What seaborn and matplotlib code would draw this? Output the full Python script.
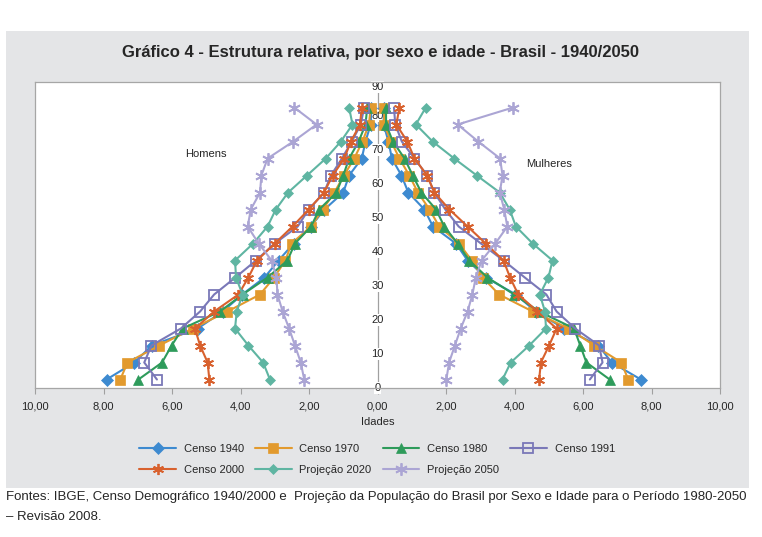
import numpy as np
import matplotlib
matplotlib.use("Agg")
import matplotlib.pyplot as plt
import seaborn as sns
from matplotlib import font_manager
from matplotlib.patches import Rectangle
from matplotlib.ticker import FuncFormatter

# ---------------- data ----------------
ages = [2.5, 7.5, 12.5, 17.5, 22.5, 27.5, 32.5, 37.5, 42.5, 47.5,
        52.5, 57.5, 62.5, 67.5, 72.5, 77.5, 82.5]
y_ticks = [0, 10, 20, 30, 40, 50, 60, 70, 80, 90]
x_ticks = [-10, -8, -6, -4, -2, 0, 2, 4, 6, 8, 10]

series_names = ["Censo 1940", "Censo 1970", "Censo 1980", "Censo 1991",
                "Censo 2000", "Projeção 2020", "Projeção 2050"]

homens_1940 = [7.91, 7.10, 6.59, 5.25, 4.52, 3.95, 3.30, 2.89, 2.45, 1.95, 1.55, 1.00, 0.83, 0.46, 0.35, 0.20, 0.18]
mulheres_1940 = [7.69, 6.84, 6.45, 5.45, 4.62, 4.04, 3.16, 2.63, 2.29, 1.62, 1.37, 0.90, 0.70, 0.42, 0.32, 0.18, 0.18]
homens_1970 = [7.51, 7.30, 6.37, 5.40, 4.38, 3.43, 3.02, 2.69, 2.51, 1.94, 1.60, 1.26, 0.98, 0.68, 0.44, 0.25, 0.20]
mulheres_1970 = [7.32, 7.12, 6.33, 5.58, 4.53, 3.55, 3.07, 2.75, 2.38, 1.80, 1.52, 1.18, 0.93, 0.64, 0.40, 0.19, 0.20]
homens_1980 = [6.98, 6.29, 6.01, 5.69, 4.60, 3.94, 3.21, 2.63, 2.41, 1.94, 1.70, 1.20, 1.00, 0.83, 0.55, 0.35, 0.30]
mulheres_1980 = [6.78, 6.10, 5.92, 5.74, 4.72, 3.99, 3.21, 2.68, 2.34, 1.95, 1.71, 1.28, 1.03, 0.79, 0.45, 0.25, 0.25]
homens_1991 = [6.44, 6.81, 6.60, 5.74, 5.18, 4.77, 4.15, 3.55, 3.00, 2.33, 2.01, 1.56, 1.36, 1.04, 0.75, 0.49, 0.39]
mulheres_1991 = [6.20, 6.57, 6.47, 5.77, 5.23, 4.93, 4.30, 3.68, 3.02, 2.37, 1.98, 1.66, 1.45, 1.08, 0.71, 0.52, 0.48]
homens_2000 = [4.91, 4.96, 5.18, 5.33, 4.77, 4.06, 3.77, 3.52, 3.00, 2.48, 2.01, 1.56, 1.31, 0.97, 0.78, 0.51, 0.46]
mulheres_2000 = [4.72, 4.77, 5.01, 5.23, 4.67, 4.11, 3.87, 3.68, 3.16, 2.63, 2.10, 1.66, 1.45, 1.08, 0.87, 0.55, 0.64]
homens_2020 = [3.14, 3.34, 3.77, 4.16, 4.11, 3.94, 4.13, 4.16, 3.63, 3.21, 2.97, 2.61, 2.06, 1.51, 1.07, 0.73, 0.83]
mulheres_2020 = [3.65, 3.89, 4.43, 4.92, 4.89, 4.74, 4.99, 5.11, 4.53, 4.04, 3.86, 3.57, 2.90, 2.24, 1.61, 1.12, 1.41]
homens_2050 = [2.14, 2.24, 2.41, 2.58, 2.77, 2.92, 2.95, 3.09, 3.47, 3.79, 3.70, 3.43, 3.39, 3.21, 2.46, 1.78, 2.43]
mulheres_2050 = [2.01, 2.09, 2.26, 2.43, 2.63, 2.77, 2.87, 3.04, 3.44, 3.79, 3.70, 3.57, 3.65, 3.58, 2.94, 2.34, 3.96]

homens = [homens_1940, homens_1970, homens_1980, homens_1991, homens_2000, homens_2020, homens_2050]
mulheres = [mulheres_1940, mulheres_1970, mulheres_1980, mulheres_1991, mulheres_2000, mulheres_2020, mulheres_2050]

# ---------------- styles ----------------
colors = ["#3D8AD0", "#E29A2E", "#2E9B5B", "#7A78B8", "#D8612E", "#5FB5A2", "#ABA5D4"]
markers = ["D", "s", "^", "s", (6, 2, 0), "D", (6, 2, 0)]
msizes = [6, 7, 7, 7, 8, 5.5, 9]
hollow = [False, False, False, True, False, False, False]

sns.set_style("white")
names = {f.name for f in font_manager.fontManager.ttflist}
narrow = "Liberation Sans Narrow" if "Liberation Sans Narrow" in names else "Liberation Sans"
plt.rcParams["font.family"] = ["Liberation Sans", "DejaVu Sans"]

W, H = 762, 537
fig = plt.figure(figsize=(W / 100, H / 100), dpi=100)
fig.patch.set_facecolor("white")
fig.patches.append(Rectangle((6 / W, 1 - 488 / H), 743 / W, 457 / H, transform=fig.transFigure,
                             facecolor="#E4E5E7", edgecolor="none", zorder=-5))

ax = fig.add_axes([35 / W, 1 - 388 / H, 685 / W, 306 / H])
ax.set_zorder(2)
ax.set_facecolor("white")

for i, name in enumerate(series_names):
    for sign, vals in ((-1, homens[i]), (1, mulheres[i])):
        kw = dict(color=colors[i], marker=markers[i], markersize=msizes[i], linewidth=1.5,
                  markeredgecolor=colors[i], markeredgewidth=1.3 if hollow[i] or markers[i] == (6, 2, 0) else 0.5)
        if hollow[i]:
            kw["markerfacecolor"] = "none"
        sns.lineplot(x=sign * np.array(vals), y=ages, sort=False, estimator=None, ax=ax,
                     label=name if sign == -1 else None, zorder=3 + i, **kw)

ax.set_xlim(-10, 10)
ax.set_ylim(0, 90)
ax.axvline(0, color="#A0A0A0", lw=0.9, zorder=2)
ax.set_yticks([])
ax.set_ylabel("")
for yt in y_ticks:
    ax.text(0, yt, str(yt), ha="center", va="top" if yt == 90 else "center", fontsize=8,
            zorder=2.5, clip_on=False, bbox=dict(facecolor="white", edgecolor="none", pad=0.5))

ax.set_xticks(x_ticks)
ax.xaxis.set_major_formatter(FuncFormatter(lambda v, p: f"{abs(v):.2f}".replace(".", ",")))
ax.tick_params(axis="x", direction="out", length=4, color="#A0A0A0", labelsize=8, pad=6, bottom=True)
ax.set_xlabel("Idades", fontsize=8, labelpad=4)
for s in ax.spines.values():
    s.set_color("#A6A6A6")
    s.set_linewidth(0.9)

ax.text(-5.0, 68.8, "Homens", ha="center", va="center", fontsize=8)
ax.text(5.0, 65.9, "Mulheres", ha="center", va="center", fontsize=8)

handles, labels = ax.get_legend_handles_labels()
order = ["Censo 1940", "Censo 2000", "Censo 1970", "Projeção 2020", "Censo 1980", "Projeção 2050", "Censo 1991"]
hmap = dict(zip(labels, handles))
if ax.get_legend() is not None:
    ax.get_legend().remove()
fig.legend([hmap[o] for o in order], order, loc="center", bbox_to_anchor=(377 / W, 1 - 459.5 / H),
           ncol=4, frameon=False, prop={"family": narrow, "size": 8}, handlelength=3.3,
           handletextpad=0.7, columnspacing=1.0, labelspacing=1.0)

fig.text(381 / W, 1 - 52 / H, "Gráfico 4 - Estrutura relativa, por sexo e idade - Brasil - 1940/2050",
         ha="center", va="center", fontsize=12, fontweight="bold", family=narrow)
fig.text(6 / W, 1 - 497 / H,
         "Fontes: IBGE, Censo Demográfico 1940/2000 e  Projeção da População do Brasil por Sexo e Idade para o Período 1980-2050",
         ha="left", va="center", fontsize=9.5, family=narrow)
fig.text(6 / W, 1 - 517 / H, "– Revisão 2008.", ha="left", va="center", fontsize=9.5, family=narrow)

fig.savefig("out.png", dpi=100)
